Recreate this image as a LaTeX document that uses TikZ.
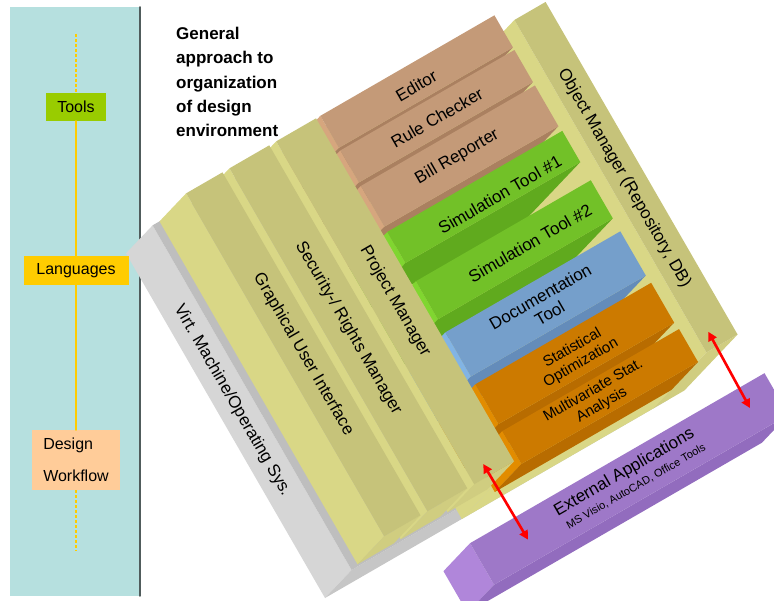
\documentclass[tikz,border=0pt]{standalone}
\usepackage{fontspec}
\setmainfont{Liberation Sans}
\usetikzlibrary{arrows.meta}

%--- colours
\definecolor{panel}{RGB}{182,224,223}
\definecolor{panelline}{RGB}{80,92,92}
\definecolor{railyellow}{RGB}{255,204,0}
\definecolor{toolgreen}{RGB}{153,204,0}
\definecolor{langyellow}{RGB}{255,204,0}
\definecolor{flowpeach}{RGB}{255,204,153}
\definecolor{greyside}{RGB}{214,214,214}
\definecolor{greyfront}{RGB}{198,198,198}
\definecolor{greytop}{RGB}{190,190,190}
\definecolor{oliveside}{RGB}{217,215,134}
\definecolor{olivefront}{RGB}{208,205,128}
\definecolor{olivetop}{RGB}{198,195,122}
\definecolor{paleside}{RGB}{217,215,134}
\definecolor{palefront}{RGB}{217,215,134}
\definecolor{paletop}{RGB}{217,215,134}
\definecolor{brownside}{RGB}{214,166,126}
\definecolor{brownfront}{RGB}{170,128,96}
\definecolor{browntop}{RGB}{196,154,120}
\definecolor{greenside}{RGB}{128,214,48}
\definecolor{greenfront}{RGB}{96,170,30}
\definecolor{greentop}{RGB}{114,193,40}
\definecolor{blueside}{RGB}{130,180,228}
\definecolor{bluefront}{RGB}{100,140,186}
\definecolor{bluetop}{RGB}{117,159,203}
\definecolor{orangeside}{RGB}{226,140,0}
\definecolor{orangefront}{RGB}{184,108,0}
\definecolor{orangetop}{RGB}{204,122,0}
\definecolor{purpleside}{RGB}{176,134,218}
\definecolor{purplefront}{RGB}{146,108,190}
\definecolor{purpletop}{RGB}{158,120,200}

% box: a0, a1, b0, b1, z0, z1, colour set
\newcommand{\drawblock}[7]{%
  \fill[#7side]  (#1,#3,#5) -- (#1,#4,#5) -- (#1,#4,#6) -- (#1,#3,#6) -- cycle;
  \fill[#7front] (#1,#3,#5) -- (#2,#3,#5) -- (#2,#3,#6) -- (#1,#3,#6) -- cycle;
  \fill[#7top]   (#1,#3,#6) -- (#2,#3,#6) -- (#2,#4,#6) -- (#1,#4,#6) -- cycle;
}

\begin{document}
\begin{tikzpicture}[x=1pt, y=-1pt, line cap=round, line join=round,
  tag/.style={inner sep=0pt, font=\fontsize{16}{19}\selectfont},
  rail/.style={line width=2pt, draw=railyellow},
  lbl/.style={font=\fontsize{17}{19}\selectfont, align=center, inner sep=0pt},
  small/.style={font=\fontsize{15}{17}\selectfont, align=center, inner sep=0pt},
  link/.style={red, line width=2.6pt, {Triangle[length=9pt,width=9pt]}-{Triangle[length=9pt,width=9pt]}}]
  \useasboundingbox (0,0) rectangle (774,601);
  \clip (0,0) rectangle (774,601);
  %--- Left bar
    \fill[panel] (10,7) rectangle (140,596);
    \draw[panelline, line width=1.5pt] (140,7) -- (140,596);
  %--- Title
    \node[anchor=north west, align=left, inner sep=0pt,
          font=\bfseries\fontsize{17}{24.3}\selectfont] (title) at (176,27)
      {General\\approach to\\organization\\of design\\environment};
  %--- Platform
  \begin{scope}[shift={(325pt,-598pt)}, x={(0.866pt,0.5pt)}, y={(-0.5pt,0.866pt)}, z={(0.95pt,1pt)}]
    \drawblock{0}{395}{0}{398}{0}{28}{grey}
    \drawblock{379}{415}{0}{384}{0}{56}{olive}
    \drawblock{158}{379}{0}{394}{0}{30}{pale}
    %--- tools, back to front
    \drawblock{163}{364}{361}{398}{0}{56}{brown}
    \drawblock{163}{364}{321}{358}{0}{56}{brown}
    \drawblock{163}{364}{270}{317}{0}{56}{brown}
    \drawblock{163}{365}{228}{264}{0}{56}{green}
    \drawblock{163}{365}{163}{207}{0}{56}{green}
    \drawblock{163}{365}{97}{148}{0}{56}{blue}
    \drawblock{163}{366}{42}{88}{0}{56}{orange}
    \drawblock{163}{367}{-4}{34}{28}{56}{orange}
    %--- managers
    \drawblock{112}{158}{2}{398}{28}{56}{olive}
    \drawblock{58}{104}{2}{398}{28}{56}{olive}
    \drawblock{8}{50}{2}{398}{28}{56}{olive}
    %--- External applications
    \drawblock{116}{456}{-84}{-36}{0}{28}{purple}
    %--- labels
    \node[lbl, rotate=-60] (vm) at (0,212,14) {Virt. Machine/Operating Sys.};
    \node[lbl, rotate=-60] (gui) at (29,200,56) {Graphical User Interface};
    \node[lbl, rotate=-60] (sec) at (81,200,56) {Security-/ Rights Manager};
    \node[lbl, rotate=-60] (pm) at (135,200,56) {Project Manager};
    \node[lbl, rotate=-60] (om) at (395,192,56) {Object Manager (Repository, DB)};
    \node[lbl, rotate=30] (editor) at (261,376,56) {Editor};
    \node[lbl, rotate=30] (rule) at (263,338,56) {Rule Checker};
    \node[lbl, rotate=30] (bill) at (261,294,56) {Bill Reporter};
    \node[lbl, rotate=30] (simA) at (279,240,56) {Simulation Tool \#1};
    \node[lbl, rotate=30] (simB) at (281,183,56) {Simulation Tool \#2};
    \node[lbl, rotate=30] (doc) at (263,122,56) {Documentation\\Tool};
    \node[small, rotate=30] (stat) at (265,62,56) {Statistical\\Optimization};
    \node[small, rotate=30] (multi) at (262,15,56) {Multivariate Stat.\\Analysis};
    \node[lbl, rotate=30] (ext) at (285,-52,28) {External Applications};
    \node[inner sep=0pt, font=\fontsize{11}{13}\selectfont, rotate=30] (extsub) at (288,-70,28)
      {MS Visio, AutoCAD, Office Tools};
    %--- exchange with outside tools
    \coordinate (pmfoot) at (130,15,56);
    \coordinate (extleft) at (168,-62,28);
    \coordinate (omfoot) at (391,17,56);
    \coordinate (extright) at (426,-59,28);
    \draw[link] (pmfoot) -- (extleft);
    \draw[link] (omfoot) -- (extright);
  \end{scope}
  %--- Axis of the left bar
    \node[tag, fill=toolgreen, minimum width=60pt, minimum height=28pt] (tools) at (76,107) {Tools};
    \node[tag, fill=langyellow, minimum width=105pt, minimum height=29pt] (lang) at (76,270.5) {Languages};
    \node[tag, fill=flowpeach, minimum width=88pt, minimum height=60pt, align=left,
          font=\fontsize{16}{32}\selectfont] (flow) at (76,460) {Design\\Workflow};
    \coordinate (railtop) at (76,34);
    \coordinate (railbot) at (76,551);
    \draw[rail, dash pattern=on 3pt off 2pt, line cap=butt] (railtop) -- (tools);
    \draw[rail] (tools) -- (lang);
    \draw[rail] (lang) -- (flow);
    \draw[rail, dash pattern=on 3pt off 2pt, line cap=butt] (flow) -- (railbot);
\end{tikzpicture}
\end{document}
